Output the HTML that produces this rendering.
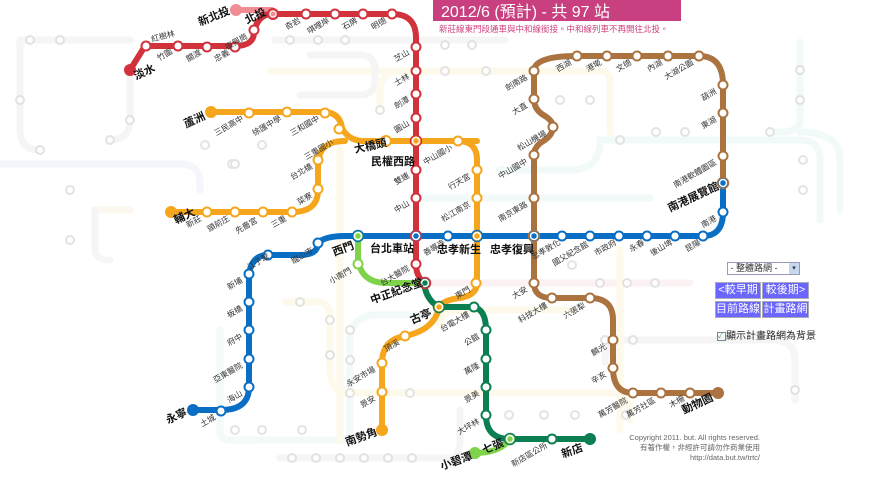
<!DOCTYPE html>
<html><head><meta charset="utf-8"><style>
html,body{margin:0;padding:0;background:#fff;}
body{width:878px;height:478px;overflow:hidden;position:relative;font-family:"Liberation Sans","Noto Sans CJK TC",sans-serif;}
svg{position:absolute;left:0;top:0;}
.s{font-size:8px;fill:#333;}
.b{font-size:11px;font-weight:bold;fill:#111;}
.bt{position:absolute;background:#6b66ff;color:#fff;font-size:11px;text-align:center;line-height:15px;height:15px;border:1px solid #aab;}
</style></head><body>
<svg width="878" height="478" viewBox="0 0 878 478">
<g fill="none" stroke-width="7" stroke-linecap="round" opacity="0.55">
<path d="M275,40 H505" stroke="#eee"/>
<path d="M270,71 H600 Q610,71 610,81 V130 Q610,140 620,140 H700" stroke="#fdf7dc"/>
<path d="M310,55 H360 Q375,55 375,70 V80 Q375,95 360,95 H300" stroke="#eee"/>
<path d="M500,170 H570 Q600,170 600,140 H800 Q820,140 820,160 V220" stroke="#e7f5f5"/>
<path d="M416,198 H650" stroke="#e7f5f5"/>
<path d="M380,110 V90 Q380,75 395,71" stroke="#fdf7dc"/>
<path d="M0,164 H180 Q200,164 200,184 V190" stroke="#eeeefa"/>
<path d="M95,210 H130" stroke="#fdf3e2"/>
<path d="M430,283 H690" stroke="#fbe6ea"/>
<path d="M220,330 V430 Q220,440 230,440 H340 Q350,440 350,430 V340 Q350,320 370,315 H420" stroke="#e7f5f5"/>
<path d="M285,302 H320 Q330,302 330,320 V370 Q330,393 350,393 H610 Q630,393 630,413 V420" stroke="#fdf7dc"/>
<path d="M440,325 Q440,310 460,310 H570" stroke="#fdf7dc"/>
<path d="M280,458 H450 Q460,458 460,440 V410" stroke="#eee"/>
<path d="M605,362 Q605,340 620,340 H770 Q795,340 795,360 V400" stroke="#eee"/>
<path d="M800,42 V120 Q800,132 780,132 H770" stroke="#e7f5f5"/>
<path d="M800,132 Q840,132 840,160 V210" stroke="#e7f5f5"/>
<path d="M20,40 H130 M20,40 V130 Q20,150 40,150" stroke="#eee"/>
<path d="M130,70 V120 Q130,140 110,140" stroke="#eee"/>
<path d="M95,210 V250 Q95,260 110,260" stroke="#eee"/>
<path d="M340,150 V440" stroke="#fdf7dc"/>
<path d="M620,250 V430" stroke="#fdf7dc"/>
</g>
<g fill="#fff" stroke="#ddd" stroke-width="2" opacity="0.8">
<circle cx="290" cy="40" r="4"/><circle cx="318" cy="40" r="4"/><circle cx="345" cy="40" r="4"/><circle cx="445" cy="45" r="4"/><circle cx="472" cy="45" r="4"/>
<circle cx="560" cy="100" r="4"/><circle cx="590" cy="100" r="4"/><circle cx="620" cy="140" r="4"/><circle cx="656" cy="132" r="4"/><circle cx="685" cy="132" r="4"/>
<circle cx="770" cy="132" r="4"/><circle cx="800" cy="70" r="4"/><circle cx="800" cy="100" r="4"/><circle cx="803" cy="160" r="4"/><circle cx="803" cy="190" r="4"/>
<circle cx="572" cy="265" r="4"/><circle cx="600" cy="283" r="4"/><circle cx="627" cy="283" r="4"/><circle cx="655" cy="283" r="4"/>
<circle cx="300" cy="302" r="4"/><circle cx="330" cy="320" r="4"/><circle cx="330" cy="355" r="4"/><circle cx="350" cy="393" r="4"/><circle cx="410" cy="393" r="4"/>
<circle cx="235" cy="430" r="4"/><circle cx="262" cy="430" r="4"/><circle cx="302" cy="430" r="4"/><circle cx="350" cy="330" r="4"/><circle cx="350" cy="360" r="4"/>
<circle cx="292" cy="458" r="4"/><circle cx="316" cy="458" r="4"/><circle cx="340" cy="458" r="4"/><circle cx="364" cy="458" r="4"/><circle cx="388" cy="458" r="4"/><circle cx="412" cy="458" r="4"/>
<circle cx="605" cy="340" r="4"/><circle cx="633" cy="340" r="4"/><circle cx="795" cy="390" r="4"/><circle cx="626" cy="415" r="4"/><circle cx="575" cy="415" r="4"/><circle cx="544" cy="415" r="4"/><circle cx="509" cy="415" r="4"/>
<circle cx="30" cy="40" r="4"/><circle cx="60" cy="40" r="4"/><circle cx="20" cy="100" r="4"/><circle cx="40" cy="150" r="4"/><circle cx="70" cy="190" r="4"/><circle cx="70" cy="240" r="4"/><circle cx="130" cy="120" r="4"/><circle cx="110" cy="140" r="4"/>
<circle cx="232" cy="164" r="4"/><circle cx="205" cy="145" r="4"/><circle cx="262" cy="145" r="4"/><circle cx="235" cy="164" r="4"/><circle cx="380" cy="110" r="4"/><circle cx="445" cy="71" r="4"/><circle cx="486" cy="71" r="4"/>
</g>
<g fill="none" stroke-linecap="round" stroke-linejoin="round" stroke-width="6">
<path d="M236,10 H272" stroke="#ef8c94"/>
<path d="M130,70 L145,46 H235 Q254,46 254,32 Q258,14 272,14 H392 Q416,14 416,38 V264 Q416,276 424,283" stroke="#d2323c"/>
<path d="M211,112 H325 Q340,113 342,128 Q348,140 362,141 H477" stroke="#f5a61c"/>
<path d="M171,212 H292 Q318,212 318,190 V165 Q318,141 345,141" stroke="#f5a61c"/>
<path d="M458,141 Q477,141 477,160 V283 Q477,295 460,298 Q442,300 439,308 Q434,330 405,336 Q382,340 382,363 V430" stroke="#f5a61c"/>
<path d="M193,410 H221 Q249,410 249,387 V274 Q252,255 268,255 H300 Q318,255 318,243 Q325,236 345,236 H703 Q723,236 723,212 V183" stroke="#0a6fc4"/>
<path d="M723,183 V85 Q723,56 699,56 H577 Q534,56 534,71 V99 Q534,110 545,116 Q553,121 553,127 Q553,134 545,140 Q534,146 534,155 V283 Q534,298 552,298 H590 Q613,298 613,320 V368 Q613,393 633,393 H718" stroke="#aa7340"/>
<path d="M424,283 Q426,300 439,307 H474 Q486,310 486,330 V415 Q486,439 510,439 H590" stroke="#0b7f52"/>
<path d="M358,236 V258 Q360,282 385,283 H424" stroke="#7fd34a"/>
<path d="M510,439 Q500,453 475,453" stroke="#7fd34a"/>
</g>
<g stroke="none">
<circle cx="130" cy="70" r="6" fill="#d2323c"/><circle cx="236" cy="10" r="6" fill="#ef8c94"/>
<circle cx="211" cy="112" r="6" fill="#f5a61c"/><circle cx="171" cy="212" r="6" fill="#f5a61c"/><circle cx="382" cy="430" r="6" fill="#f5a61c"/>
<circle cx="193" cy="410" r="6" fill="#0a6fc4"/><circle cx="718" cy="393" r="6" fill="#aa7340"/>
<circle cx="590" cy="439" r="6" fill="#0b7f52"/><circle cx="475" cy="453" r="6" fill="#7fd34a"/>
</g>
<g fill="#fff" stroke-width="2">
<g stroke="#d2323c"><circle cx="146" cy="46" r="4.5"/><circle cx="178" cy="46" r="4.5"/><circle cx="207" cy="47" r="4.5"/><circle cx="235" cy="47" r="4.5"/><circle cx="254" cy="30" r="4.5"/><circle cx="306" cy="14" r="4.5"/><circle cx="335" cy="14" r="4.5"/><circle cx="363" cy="14" r="4.5"/><circle cx="392" cy="14" r="4.5"/><circle cx="416" cy="47" r="4.5"/><circle cx="416" cy="71" r="4.5"/><circle cx="416" cy="94" r="4.5"/><circle cx="416" cy="118" r="4.5"/><circle cx="416" cy="170" r="4.5"/><circle cx="416" cy="198" r="4.5"/><circle cx="416" cy="264" r="4.5"/></g>
<circle cx="273" cy="14" r="5" stroke="#d2323c" fill="#ef8c94"/><circle cx="273" cy="14" r="3" stroke="#fff" stroke-width="1" fill="#ef8c94"/>
<g stroke="#f5a61c"><circle cx="249" cy="113" r="4.5"/><circle cx="287" cy="112" r="4.5"/><circle cx="325" cy="113" r="4.5"/><circle cx="339" cy="129" r="4.5"/><circle cx="458" cy="141" r="4.5"/><circle cx="477" cy="170" r="4.5"/><circle cx="477" cy="198" r="4.5"/><circle cx="476" cy="283" r="4.5"/><circle cx="405" cy="336" r="4.5"/><circle cx="382" cy="363" r="4.5"/><circle cx="382" cy="392" r="4.5"/><circle cx="207" cy="212" r="4.5"/><circle cx="235" cy="212" r="4.5"/><circle cx="263" cy="212" r="4.5"/><circle cx="292" cy="212" r="4.5"/><circle cx="318" cy="189" r="4.5"/><circle cx="318" cy="160" r="4.5"/><circle cx="386" cy="141" r="5"/></g>
<g stroke="#0a6fc4"><circle cx="221" cy="411" r="4.5"/><circle cx="249" cy="387" r="4.5"/><circle cx="249" cy="359" r="4.5"/><circle cx="249" cy="330" r="4.5"/><circle cx="249" cy="302" r="4.5"/><circle cx="249" cy="274" r="4.5"/><circle cx="268" cy="255" r="4.5"/><circle cx="318" cy="243" r="4.5"/><circle cx="448" cy="236" r="4.5"/><circle cx="562" cy="236" r="4.5"/><circle cx="590" cy="236" r="4.5"/><circle cx="619" cy="236" r="4.5"/><circle cx="647" cy="236" r="4.5"/><circle cx="675" cy="236" r="4.5"/><circle cx="703" cy="236" r="4.5"/><circle cx="723" cy="212" r="4.5"/></g>
<g stroke="#aa7340"><circle cx="723" cy="156" r="4.5"/><circle cx="723" cy="113" r="4.5"/><circle cx="723" cy="85" r="4.5"/><circle cx="699" cy="56" r="4.5"/><circle cx="668" cy="56" r="4.5"/><circle cx="637" cy="56" r="4.5"/><circle cx="607" cy="56" r="4.5"/><circle cx="577" cy="56" r="4.5"/><circle cx="534" cy="71" r="4.5"/><circle cx="534" cy="99" r="4.5"/><circle cx="553" cy="127" r="4.5"/><circle cx="534" cy="155" r="4.5"/><circle cx="534" cy="198" r="4.5"/><circle cx="534" cy="283" r="4.5"/><circle cx="552" cy="298" r="4.5"/><circle cx="590" cy="298" r="4.5"/><circle cx="613" cy="340" r="4.5"/><circle cx="613" cy="368" r="4.5"/><circle cx="633" cy="393" r="4.5"/><circle cx="661" cy="393" r="4.5"/><circle cx="690" cy="393" r="4.5"/></g>
<g stroke="#0b7f52"><circle cx="474" cy="307" r="4.5"/><circle cx="486" cy="330" r="4.5"/><circle cx="486" cy="359" r="4.5"/><circle cx="486" cy="387" r="4.5"/><circle cx="486" cy="415" r="4.5"/><circle cx="552" cy="439" r="4.5"/></g>
<g stroke="#7fd34a"><circle cx="358" cy="264" r="4.5"/></g>
</g>
<g stroke-width="1.5">
<circle cx="416" cy="141" r="5.5" fill="#f5a61c" stroke="#d2323c"/><circle cx="416" cy="141" r="3.5" fill="#f5a61c" stroke="#fff"/>
<circle cx="416" cy="236" r="5.5" fill="#0a6fc4" stroke="#d2323c"/><circle cx="416" cy="236" r="3.5" fill="#0a6fc4" stroke="#fff"/>
<circle cx="358" cy="236" r="5.5" fill="#7fd34a" stroke="#0a6fc4"/><circle cx="358" cy="236" r="3.5" fill="#7fd34a" stroke="#fff"/>
<circle cx="477" cy="236" r="5.5" fill="#f5a61c" stroke="#0a6fc4"/><circle cx="477" cy="236" r="3.5" fill="#f5a61c" stroke="#fff"/>
<circle cx="534" cy="236" r="5.5" fill="#0a6fc4" stroke="#aa7340"/><circle cx="534" cy="236" r="3.5" fill="#0a6fc4" stroke="#fff"/>
<circle cx="723" cy="183" r="5.5" fill="#0a6fc4" stroke="#aa7340"/><circle cx="723" cy="183" r="3.5" fill="#0a6fc4" stroke="#fff"/>
<circle cx="425" cy="283" r="5.5" fill="#0b7f52" stroke="#d2323c"/><circle cx="425" cy="283" r="3.5" fill="#0b7f52" stroke="#fff"/>
<circle cx="439" cy="307" r="5.5" fill="#f5a61c" stroke="#0b7f52"/><circle cx="439" cy="307" r="3.5" fill="#f5a61c" stroke="#fff"/>
<circle cx="510" cy="439" r="5.5" fill="#7fd34a" stroke="#0b7f52"/><circle cx="510" cy="439" r="3.5" fill="#7fd34a" stroke="#fff"/>
</g>
<g class="s">
<text transform="translate(152,42) rotate(-15)">紅樹林</text>
<text transform="translate(173,53) rotate(-30)" text-anchor="end">竹圍</text>
<text transform="translate(202,54) rotate(-30)" text-anchor="end">關渡</text>
<text transform="translate(230,54) rotate(-30)" text-anchor="end">忠義</text>
<text transform="translate(248,38) rotate(-30)" text-anchor="end">復興崗</text>
<text transform="translate(301,22) rotate(-30)" text-anchor="end">奇岩</text>
<text transform="translate(330,22) rotate(-30)" text-anchor="end">唭哩岸</text>
<text transform="translate(358,22) rotate(-30)" text-anchor="end">石牌</text>
<text transform="translate(387,22) rotate(-30)" text-anchor="end">明德</text>
<text transform="translate(410,54) rotate(-30)" text-anchor="end">芝山</text>
<text transform="translate(410,78) rotate(-30)" text-anchor="end">士林</text>
<text transform="translate(410,101) rotate(-30)" text-anchor="end">劍潭</text>
<text transform="translate(410,125) rotate(-30)" text-anchor="end">圓山</text>
<text transform="translate(410,177) rotate(-30)" text-anchor="end">雙連</text>
<text transform="translate(410,205) rotate(-30)" text-anchor="end">中山</text>
<text transform="translate(410,270) rotate(-30)" text-anchor="end">台大醫院</text>
<text transform="translate(244,120) rotate(-30)" text-anchor="end">三民高中</text>
<text transform="translate(282,120) rotate(-30)" text-anchor="end">徐匯中學</text>
<text transform="translate(320,120) rotate(-30)" text-anchor="end">三和國中</text>
<text transform="translate(334,144) rotate(-30)" text-anchor="end">三重國小</text>
<text transform="translate(313,168) rotate(-30)" text-anchor="end">台北橋</text>
<text transform="translate(313,197) rotate(-30)" text-anchor="end">菜寮</text>
<text transform="translate(202,220) rotate(-30)" text-anchor="end">新莊</text>
<text transform="translate(230,220) rotate(-30)" text-anchor="end">頭前庄</text>
<text transform="translate(258,222) rotate(-30)" text-anchor="end">先嗇宮</text>
<text transform="translate(287,220) rotate(-30)" text-anchor="end">三重</text>
<text transform="translate(453,149) rotate(-30)" text-anchor="end">中山國小</text>
<text transform="translate(471,178) rotate(-30)" text-anchor="end">行天宮</text>
<text transform="translate(471,206) rotate(-30)" text-anchor="end">松江南京</text>
<text transform="translate(471,291) rotate(-30)" text-anchor="end">東門</text>
<text transform="translate(400,344) rotate(-30)" text-anchor="end">頂溪</text>
<text transform="translate(376,371) rotate(-30)" text-anchor="end">永安市場</text>
<text transform="translate(376,400) rotate(-30)" text-anchor="end">景安</text>
<text transform="translate(216,419) rotate(-30)" text-anchor="end">土城</text>
<text transform="translate(243,395) rotate(-30)" text-anchor="end">海山</text>
<text transform="translate(243,367) rotate(-30)" text-anchor="end">亞東醫院</text>
<text transform="translate(243,338) rotate(-30)" text-anchor="end">府中</text>
<text transform="translate(243,310) rotate(-30)" text-anchor="end">板橋</text>
<text transform="translate(243,282) rotate(-30)" text-anchor="end">新埔</text>
<text transform="translate(270,258) rotate(-30)" text-anchor="end">江子翠</text>
<text transform="translate(314,252) rotate(-30)" text-anchor="end">龍山寺</text>
<text transform="translate(352,272) rotate(-30)" text-anchor="end">小南門</text>
<text transform="translate(446,244) rotate(-30)" text-anchor="end">善導寺</text>
<text transform="translate(561,244) rotate(-30)" text-anchor="end">忠孝敦化</text>
<text transform="translate(589,246) rotate(-30)" text-anchor="end">國父紀念館</text>
<text transform="translate(617,244) rotate(-30)" text-anchor="end">市政府</text>
<text transform="translate(645,244) rotate(-30)" text-anchor="end">永春</text>
<text transform="translate(673,244) rotate(-30)" text-anchor="end">後山埤</text>
<text transform="translate(701,244) rotate(-30)" text-anchor="end">昆陽</text>
<text transform="translate(717,220) rotate(-30)" text-anchor="end">南港</text>
<text transform="translate(717,164) rotate(-30)" text-anchor="end">南港軟體園區</text>
<text transform="translate(717,121) rotate(-30)" text-anchor="end">東湖</text>
<text transform="translate(717,93) rotate(-30)" text-anchor="end">葫洲</text>
<text transform="translate(694,64) rotate(-30)" text-anchor="end">大湖公園</text>
<text transform="translate(663,64) rotate(-30)" text-anchor="end">內湖</text>
<text transform="translate(632,64) rotate(-30)" text-anchor="end">文德</text>
<text transform="translate(602,64) rotate(-30)" text-anchor="end">港墘</text>
<text transform="translate(572,64) rotate(-30)" text-anchor="end">西湖</text>
<text transform="translate(528,79) rotate(-30)" text-anchor="end">劍南路</text>
<text transform="translate(528,107) rotate(-30)" text-anchor="end">大直</text>
<text transform="translate(547,135) rotate(-30)" text-anchor="end">松山機場</text>
<text transform="translate(528,163) rotate(-30)" text-anchor="end">中山國中</text>
<text transform="translate(528,206) rotate(-30)" text-anchor="end">南京東路</text>
<text transform="translate(528,291) rotate(-30)" text-anchor="end">大安</text>
<text transform="translate(548,307) rotate(-30)" text-anchor="end">科技大樓</text>
<text transform="translate(586,307) rotate(-30)" text-anchor="end">六張犁</text>
<text transform="translate(607,348) rotate(-30)" text-anchor="end">麟光</text>
<text transform="translate(607,376) rotate(-30)" text-anchor="end">辛亥</text>
<text transform="translate(628,402) rotate(-30)" text-anchor="end">萬芳醫院</text>
<text transform="translate(656,402) rotate(-30)" text-anchor="end">萬芳社區</text>
<text transform="translate(685,400) rotate(-30)" text-anchor="end">木柵</text>
<text transform="translate(470,316) rotate(-30)" text-anchor="end">台電大樓</text>
<text transform="translate(480,338) rotate(-30)" text-anchor="end">公館</text>
<text transform="translate(480,367) rotate(-30)" text-anchor="end">萬隆</text>
<text transform="translate(480,395) rotate(-30)" text-anchor="end">景美</text>
<text transform="translate(480,423) rotate(-30)" text-anchor="end">大坪林</text>
<text transform="translate(548,447) rotate(-30)" text-anchor="end">新店區公所</text>
</g>
<g class="b">
<text transform="translate(136,80) rotate(-25)">淡水</text>
<text transform="translate(200,26) rotate(-22)">新北投</text>
<text transform="translate(247,24) rotate(-25)">北投</text>
<text transform="translate(186,128) rotate(-25)">蘆洲</text>
<text transform="translate(176,224) rotate(-25)">輔大</text>
<text transform="translate(355,153) rotate(-12)">大橋頭</text>
<text x="371" y="165">民權西路</text>
<text transform="translate(334,256) rotate(-20)">西門</text>
<text x="370" y="252">台北車站</text>
<text x="437" y="253">忠孝新生</text>
<text x="490" y="253">忠孝復興</text>
<text transform="translate(372,304) rotate(-20)">中正紀念堂</text>
<text transform="translate(412,324) rotate(-22)">古亭</text>
<text transform="translate(347,446) rotate(-20)">南勢角</text>
<text transform="translate(168,424) rotate(-25)">永寧</text>
<text transform="translate(442,470) rotate(-20)">小碧潭</text>
<text transform="translate(484,454) rotate(-22)">七張</text>
<text transform="translate(563,458) rotate(-20)">新店</text>
<text transform="translate(670,212) rotate(-25)">南港展覽館</text>
<text transform="translate(684,414) rotate(-25)">動物園</text>
</g>
<rect x="433" y="0" width="248" height="21" fill="#c8407f"/>
<text x="441" y="17" font-size="16" fill="#fff">2012/6 (預計) - 共 97 站</text>
<text x="439" y="32" font-size="8.5" fill="#d0407f">新莊線東門段通車與中和線銜接。中和線列車不再開往北投。</text>
<g font-size="7.5" fill="#666" text-anchor="end"><text x="760" y="440">Copyright 2011. but. All rights reserved.</text><text x="760" y="450">有著作權，非經許可請勿作商業使用</text><text x="760" y="460">http://data.but.tw/trtc/</text></g>
</svg>
<div style="position:absolute;left:727px;top:262px;width:71px;height:11px;border:1px solid #99b;font-size:9px;line-height:11px;background:#fff;color:#333;">&nbsp;- 整體路網 -<span style="position:absolute;right:0;top:0;width:10px;height:11px;background:#c8d8f0;font-size:7px;text-align:center">▾</span></div>
<div class="bt" style="left:715px;top:282px;width:44px;">&lt;較早期</div>
<div class="bt" style="left:762px;top:282px;width:45px;">較後期&gt;</div>
<div class="bt" style="left:715px;top:301px;width:44px;">目前路線</div>
<div class="bt" style="left:762px;top:301px;width:45px;">計畫路網</div>
<div style="position:absolute;left:717px;top:327px;font-size:10px;color:#222;"><span style="display:inline-block;width:7px;height:7px;border:1px solid #789;font-size:7px;line-height:7px;color:#393;vertical-align:middle">✓</span>顯示計畫路網為背景</div>
</body></html>
